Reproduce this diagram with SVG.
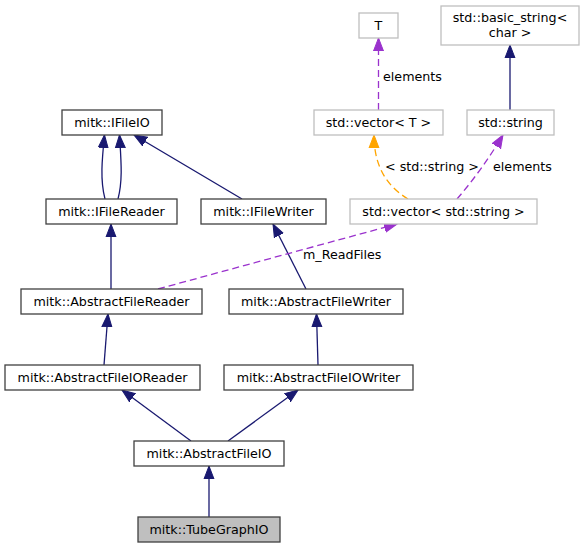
<svg xmlns="http://www.w3.org/2000/svg" width="585" height="548" viewBox="0 0 585 548">
<style>
  text { font-family: "DejaVu Sans", "Liberation Sans", sans-serif; font-size: 12.7px; fill: #000; }
  .n text { text-anchor: middle; }
  .doc { fill: #fff; stroke: #404040; stroke-width: 1.3; }
  .ext { fill: #fff; stroke: #bfbfbf; stroke-width: 1.3; }
  .cur { fill: #bfbfbf; stroke: #404040; stroke-width: 1.3; }
  .inh { fill: none; stroke: #191970; stroke-width: 1.3; marker-end: url(#aNavy); }
  .use { fill: none; stroke: #9a32cd; stroke-width: 1.3; stroke-dasharray: 7,4; marker-end: url(#aPurple); }
  .tpl { fill: none; stroke: #ffa500; stroke-width: 1.3; stroke-dasharray: 7,4; marker-end: url(#aOrange); }
</style>
<defs>
  <marker id="aNavy" markerUnits="userSpaceOnUse" viewBox="0 -6 15 12" refX="13" refY="0" markerWidth="15" markerHeight="12" orient="auto">
    <path d="M0,-5 L13,0 L0,5 Z" fill="#191970" stroke="#191970" stroke-width="1"/>
  </marker>
  <marker id="aPurple" markerUnits="userSpaceOnUse" viewBox="0 -6 15 12" refX="13" refY="0" markerWidth="15" markerHeight="12" orient="auto">
    <path d="M0,-5 L13,0 L0,5 Z" fill="#9a32cd" stroke="#9a32cd" stroke-width="1"/>
  </marker>
  <marker id="aOrange" markerUnits="userSpaceOnUse" viewBox="0 -6 15 12" refX="13" refY="0" markerWidth="15" markerHeight="12" orient="auto">
    <path d="M0,-5 L13,0 L0,5 Z" fill="#ffa500" stroke="#ffa500" stroke-width="1"/>
  </marker>
</defs>
<rect width="585" height="548" fill="#fff"/>

<g id="edges">
  <path class="inh" d="M209,517 L209,466"/>
  <path class="inh" d="M191,441 L122,390"/>
  <path class="inh" d="M228,441 L298,390"/>
  <path class="inh" d="M104,365 L108,314"/>
  <path class="inh" d="M318,365 L316.5,314"/>
  <path class="inh" d="M111,289 L111,224"/>
  <path class="inh" d="M306,289 L273,224"/>
  <path class="inh" d="M105,199 C100,180 102,160 104.5,135"/>
  <path class="inh" d="M118,199 C123,180 121,160 119.5,135"/>
  <path class="inh" d="M242,199 L134,135"/>
  <path class="inh" d="M510,110 L510,45"/>
  <path class="use" d="M158,289 L397,224"/>
  <path class="use" d="M457,199 Q482,170 503,135"/>
  <path class="use" d="M378.5,110 L378.5,38"/>
  <path class="tpl" d="M408,199 C390,188 374,170 374,135"/>
  <text x="383" y="81">elements</text>
  <text x="385" y="171">&lt; std::string &gt;</text>
  <text x="493" y="171">elements</text>
  <text x="303" y="259">m_ReadFiles</text>
</g>

<g id="node-T" class="n">
  <rect class="ext" x="359" y="13" width="39" height="25"/>
  <text x="378.5" y="30">T</text>
</g>
<g id="node-basic_string" class="n">
  <rect class="ext" x="441" y="6" width="138" height="39"/>
  <text x="510" y="22">std::basic_string&lt;</text>
  <text x="510" y="37">char &gt;</text>
</g>
<g id="node-vectorT" class="n">
  <rect class="ext" x="314" y="110" width="129" height="25"/>
  <text x="378.5" y="127">std::vector&lt; T &gt;</text>
</g>
<g id="node-string" class="n">
  <rect class="ext" x="467" y="110" width="87" height="25"/>
  <text x="510.5" y="127">std::string</text>
</g>
<g id="node-vectorString" class="n">
  <rect class="ext" x="350" y="199" width="187" height="25"/>
  <text x="443.5" y="216">std::vector&lt; std::string &gt;</text>
</g>
<g id="node-IFileIO" class="n">
  <rect class="doc" x="62" y="110" width="100" height="25"/>
  <text x="112" y="127">mitk::IFileIO</text>
</g>
<g id="node-IFileReader" class="n">
  <rect class="doc" x="46" y="199" width="131" height="25"/>
  <text x="111.5" y="216">mitk::IFileReader</text>
</g>
<g id="node-IFileWriter" class="n">
  <rect class="doc" x="201" y="199" width="125" height="25"/>
  <text x="263.5" y="216">mitk::IFileWriter</text>
</g>
<g id="node-AbstractFileReader" class="n">
  <rect class="doc" x="21" y="289" width="181" height="25"/>
  <text x="111.5" y="306">mitk::AbstractFileReader</text>
</g>
<g id="node-AbstractFileWriter" class="n">
  <rect class="doc" x="229" y="289" width="174" height="25"/>
  <text x="316" y="306">mitk::AbstractFileWriter</text>
</g>
<g id="node-AbstractFileIOReader" class="n">
  <rect class="doc" x="5" y="365" width="195" height="25"/>
  <text x="102.5" y="382">mitk::AbstractFileIOReader</text>
</g>
<g id="node-AbstractFileIOWriter" class="n">
  <rect class="doc" x="224" y="365" width="189" height="25"/>
  <text x="318.5" y="382">mitk::AbstractFileIOWriter</text>
</g>
<g id="node-AbstractFileIO" class="n">
  <rect class="doc" x="134" y="441" width="150" height="25"/>
  <text x="209" y="458">mitk::AbstractFileIO</text>
</g>
<g id="node-TubeGraphIO" class="n">
  <rect class="cur" x="138" y="517" width="142" height="25"/>
  <text x="209" y="534">mitk::TubeGraphIO</text>
</g>
</svg>
